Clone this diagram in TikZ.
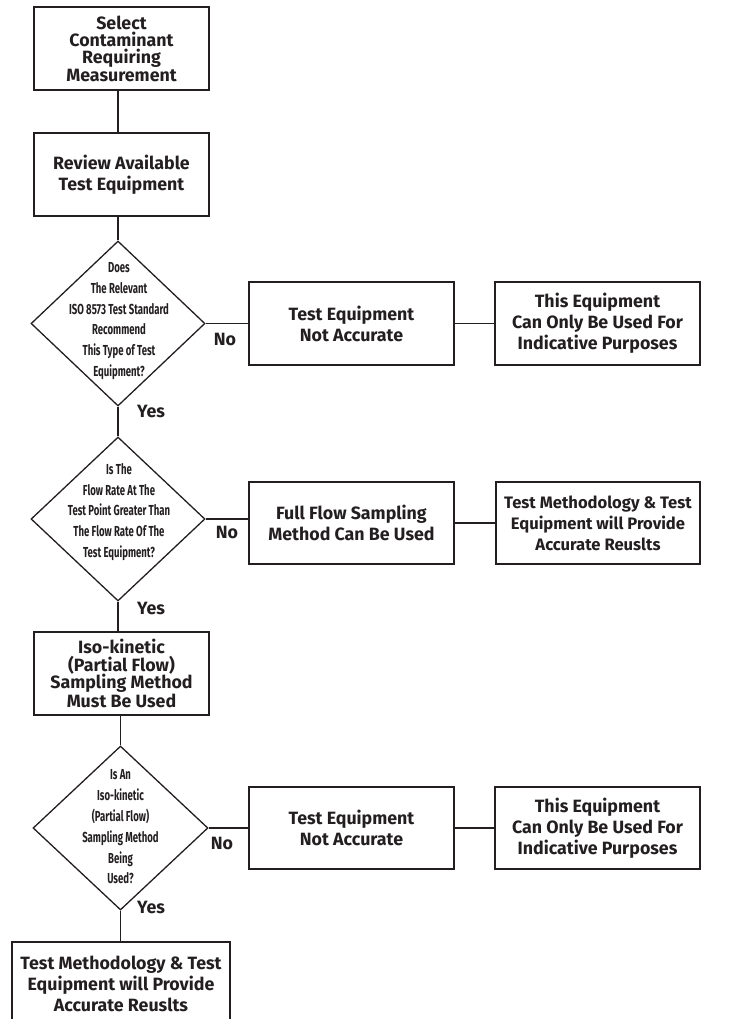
\documentclass[tikz,border=0pt]{standalone}
\usepackage{fontspec}
\setmainfont{Fira Sans}
\newfontfamily\condf{Fira Sans}[FakeStretch=0.66]
\usetikzlibrary{shapes.geometric}
\definecolor{ink}{HTML}{231F20}
\begin{document}
\begin{tikzpicture}[x=1pt,y=-1pt,
  conn/.style={line width=1.3pt, draw=ink},
  box/.style={draw=ink, line width=1.3pt, minimum width=175pt, minimum height=83pt, align=center, inner sep=0pt, text=ink, font=\bfseries\fontsize{17.8}{21}\selectfont},
  tight/.style={font=\bfseries\fontsize{17.8}{17.4}\selectfont},
  small/.style={font=\bfseries\fontsize{16.6}{21}\selectfont},
  dia/.style={draw=ink, diamond, line width=1.3pt, inner sep=0pt, minimum width=174pt, minimum height=165pt},
  dtext/.style={align=center, inner sep=0pt, text=ink, font=\condf\bfseries\fontsize{14.5}{20.8}\selectfont},
  lbl/.style={inner sep=0pt, text=ink, font=\bfseries\fontsize{17.8}{18}\selectfont}]
\useasboundingbox (0,0) rectangle (736,1019);
\clip (0,0) rectangle (736,1019);
% column
\node[box, tight] (b1) at (121.5,48.5) {Select\\Contaminant\\Requiring\\Measurement};
\node[box] (b2) at (121.5,174.5) {Review Available\\Test Equipment};
\node[dia] (d1) at (118,323.5) {};
\node[dtext] (t1) at (119,321) {Does\\The Relevant\\ISO 8573 Test Standard\\Recommend\\This Type of Test\\Equipment?};
\node[box, minimum width=205pt] (n1) at (351.5,323.5) {Test Equipment\\Not Accurate};
\node[box, minimum width=205pt] (i1) at (597.5,323.5) {This Equipment\\Can Only Be Used For\\Indicative Purposes};
\node[lbl] (no1) at (225,339) {No};
\node[lbl] (y1) at (151,411) {Yes};
\node[dia, minimum height=164pt] (d2) at (118,519) {};
\node[dtext] (t2) at (119,512) {Is The\\Flow Rate At The\\Test Point Greater Than\\The Flow Rate Of The\\Test Equipment?};
\node[box, minimum width=205pt, minimum height=82pt] (f2) at (351.5,523) {Full Flow Sampling\\Method Can Be Used};
\node[box, small, minimum width=204pt, minimum height=82pt] (a2) at (598,523) {Test Methodology \& Test\\Equipment will Provide\\Accurate Reuslts};
\node[lbl] (no2) at (227,532) {No};
\node[lbl] (y2) at (151,608) {Yes};
\node[box, tight] (b3) at (121.5,673.5) {Iso-kinetic\\(Partial Flow)\\Sampling Method\\Must Be Used};
\node[dia, minimum width=175pt, minimum height=164pt] (d3) at (120.5,828) {};
\node[dtext] (t3) at (120.5,827) {Is An\\Iso-kinetic\\(Partial Flow)\\Sampling Method\\Being\\Used?};
\node[box, minimum width=205pt, minimum height=82pt] (n3) at (351.5,828) {Test Equipment\\Not Accurate};
\node[box, minimum width=205pt, minimum height=82pt] (i3) at (597.5,828) {This Equipment\\Can Only Be Used For\\Indicative Purposes};
\node[lbl] (no3) at (222,843) {No};
\node[lbl] (y3) at (151,907) {Yes};
\node[box, minimum width=218pt, minimum height=83pt] (b4) at (121,983.5) {Test Methodology \& Test\\Equipment will Provide\\Accurate Reuslts};
% connectors
\draw[conn] (b1.south -| d1.center) -- (b2.north -| d1.center);
\draw[conn] (b2.south -| d1.center) -- (d1.north);
\draw[conn] (d1.east) -- (d1.east -| n1.west);
\draw[conn] (n1.east) -- (i1.west);
\draw[conn] (d1.south) -- (d2.north);
\draw[conn] (d2.east) -- (d2.east -| f2.west);
\draw[conn] (f2.east) -- (a2.west);
\draw[conn] (d2.south) -- (b3.north -| d2.center);
\draw[conn] (b3.south -| d3.center) -- (d3.north);
\draw[conn] (d3.east) -- (d3.east -| n3.west);
\draw[conn] (n3.east) -- (i3.west);
\draw[conn] (d3.south) -- (b4.north -| d3.center);
\end{tikzpicture}
\end{document}
